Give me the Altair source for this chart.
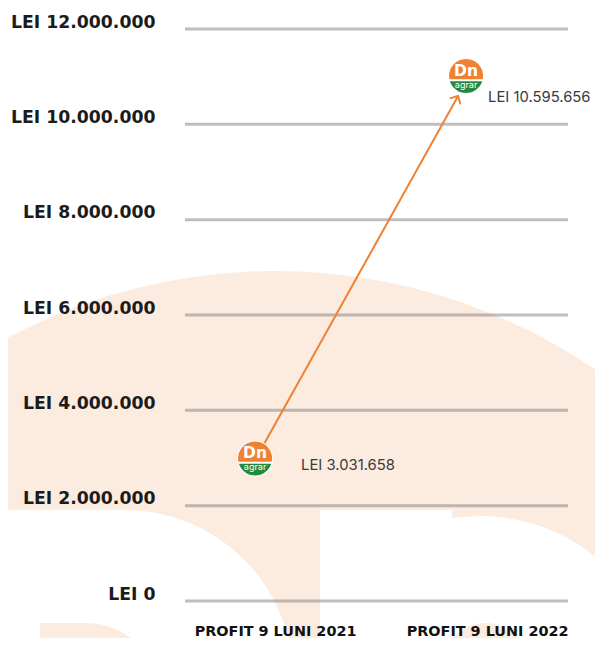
import altair as alt
import pandas as pd

# ---- data ----
periods = ["PROFIT 9 LUNI 2021", "PROFIT 9 LUNI 2022"]
profits = [3031658, 10595656]
tick_values = [0, 2000000, 4000000, 6000000, 8000000, 10000000, 12000000]

points = pd.DataFrame({"period": periods, "profit": profits})
ticks = pd.DataFrame({"profit": tick_values})
one = pd.DataFrame({"k": [0]})

ORANGE = "#EE8133"
GREEN = "#23893E"
PEACH = "#FCEBDF"
W, H = 383, 572

fmt = "'LEI ' + replace(format({v}, ','), regexp(',', 'g'), '.')"

y_axis = alt.Axis(values=tick_values, labelExpr=fmt.format(v="datum.value"), title=None,
                  domain=False, ticks=False, grid=False, labelPadding=30, zindex=1,
                  labelFont="DejaVu Sans", labelFontSize=17.3, labelFontWeight="bold",
                  labelColor="#1b1b1b", labelBaseline="alphabetic", labelOffset=-2)
x_axis = alt.Axis(title=None, domain=False, ticks=False, grid=False, labelAngle=0, zindex=1,
                  labelPadding=34, labelFont="DejaVu Sans", labelFontSize=14.4,
                  labelFontWeight="bold", labelColor="#111111",
                  labelOffset={"condition": {"test": f"datum.value == '{periods[0]}'", "value": 18},
                               "value": 29},
                  labelBaseline="alphabetic")

y_enc = alt.Y("profit:Q", scale=alt.Scale(domain=[0, 12000000], nice=False, zero=True), axis=y_axis)
x_enc = alt.X("period:N", sort=periods, axis=x_axis,
              scale=alt.Scale(type="point", padding=0.4527, align=0.396))


# ---- faint background watermark (decoration) ----
def disc(cx, cy, r, color):
    return alt.Chart(one).mark_circle(size=(2 * r) ** 2, color=color, opacity=1).encode(
        x=alt.value(cx), y=alt.value(cy))


def box(x1, x2, y1, y2, color):
    return alt.Chart(one).mark_rect(color=color).encode(
        x=alt.value(x1), x2=alt.value(x2), y=alt.value(y1), y2=alt.value(y2))


bg = [
    disc(90, 812, 570, PEACH),
    disc(-60, 649, 168, "white"),
    box(-200, -60, 481, 640, "white"),
    box(135, 267, 481, 640, "white"),
    disc(295, 671, 184, "white"),
    box(107, 135, 481, 640, PEACH),
    box(-145, -100, 594, 640, PEACH),
    disc(-100, 671, 77, PEACH),
    disc(300, 636, 42, PEACH),
]

# ---- gridlines ----
grid = alt.Chart(ticks).mark_rule(color="#888888", opacity=0.55, strokeWidth=3).encode(y=y_enc)

base = alt.Chart(points)

arrow_line = base.mark_line(color=ORANGE, strokeWidth=2).encode(x=x_enc, y=y_enc)
arrow_head = base.transform_filter(alt.datum.period == periods[1]).mark_point(
    shape="M -0.8 0.8 L 0 0 L 0.8 0.8", filled=False, size=196, angle=29,
    color=ORANGE, strokeWidth=2, opacity=1, strokeCap="round").encode(x=x_enc, y=y_enc)

ORANGE_CAP = "M -0.982 0.19 A 1 1 0 1 1 0.982 0.19 Z"
GREEN_CAP = "M -0.951 0.31 A 1 1 0 0 0 0.951 0.31 Z"
D = 34


def logo(period, dx, dy):
    b = base.transform_filter(alt.datum.period == period)
    enc = dict(x=x_enc, y=y_enc)
    return [
        b.mark_point(shape="circle", filled=True, size=(D + 2) ** 2, color="white", opacity=1,
                     xOffset=dx, yOffset=dy).encode(**enc),
        b.mark_point(shape=ORANGE_CAP, filled=True, size=D ** 2, color=ORANGE, opacity=1,
                     strokeWidth=0, xOffset=dx, yOffset=dy).encode(**enc),
        b.mark_point(shape=GREEN_CAP, filled=True, size=D ** 2, color=GREEN, opacity=1,
                     strokeWidth=0, xOffset=dx, yOffset=dy).encode(**enc),
        b.mark_text(text="Dn", color="white", font="DejaVu Sans", fontSize=15.5, fontWeight="bold",
                    dx=dx, dy=dy - 5, baseline="middle").encode(**enc),
        b.mark_text(text="agrar", color="white", font="Inter", fontSize=9,
                    dx=dx, dy=dy + 9, baseline="middle").encode(**enc),
    ]


def value_label(period, dx, dy):
    return base.transform_filter(alt.datum.period == period).transform_calculate(
        label=fmt.format(v="datum.profit")
    ).mark_text(align="left", baseline="middle", font="Inter", fontSize=14.8,
                color="#3a3a3a", dx=dx, dy=dy).encode(x=x_enc, y=y_enc, text="label:N")


layers = bg + [grid, arrow_line, arrow_head] + logo(periods[0], -2, 2) + logo(periods[1], 8, -20) + [
    value_label(periods[0], 44, 10),
    value_label(periods[1], 30, 2),
]

chart = alt.layer(*layers).properties(
    width=W, height=H,
    autosize=alt.AutoSizeParams(type="none"),
    padding={"left": 177, "top": 21, "right": 27, "bottom": 37},
).configure_view(stroke="transparent")

chart.save("out.html", embed_options={"renderer": "svg", "actions": False})
